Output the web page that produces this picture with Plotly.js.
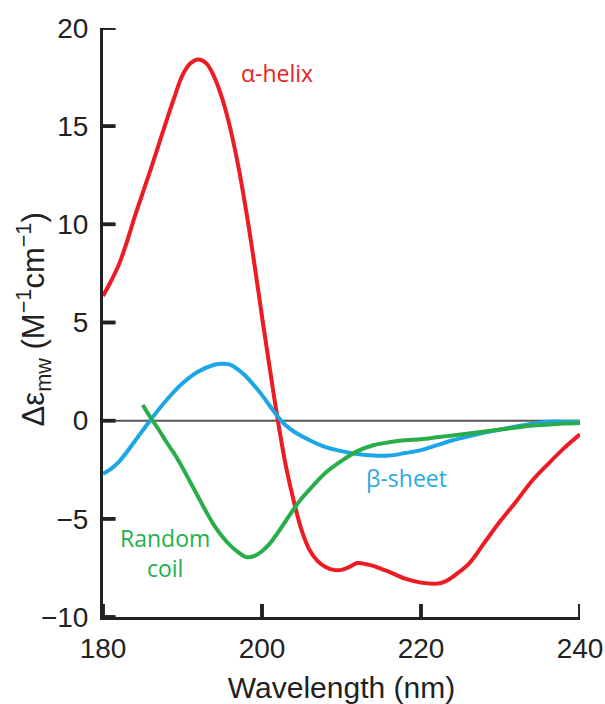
<!DOCTYPE html>
<html>
<head>
<meta charset="utf-8">
<script src="https://cdn.plot.ly/plotly-3.0.1.min.js"></script>
<style>html,body{margin:0;padding:0;background:#fff;}#chart{width:605px;height:704px;}</style>
</head>
<body>
<div id="chart"></div>
<script>
// α-helix
var helixX = [180,181,182,183,184,185,186,187,188,189,190,191,192,193,194,195,196,197,198,199,200,201,202,203,204,205,206,207,208,209,210,211,212,213,214,215,216,218,220,222,223,224,226,228,230,232,234,236,238,240];
var helixY = [6.35,7.1,7.95,9.1,10.4,11.6,12.8,14.05,15.3,16.5,17.6,18.2,18.4,18.2,17.5,16.4,14.9,13.0,10.7,8.1,5.3,2.6,0.0,-2.3,-4.1,-5.6,-6.6,-7.15,-7.45,-7.6,-7.6,-7.45,-7.25,-7.3,-7.4,-7.55,-7.7,-8.05,-8.25,-8.3,-8.2,-7.95,-7.3,-6.2,-5.1,-4.1,-3.05,-2.2,-1.4,-0.7];
// β-sheet
var sheetX = [180,181,182,184,186,188,190,192,194,195,196,197,198,199,200,201,202,203,204,206,208,210,212,214,216,218,220,222,224,226,228,230,232,234,236,238,240];
var sheetY = [-2.7,-2.45,-2.1,-1.05,0.05,1.05,1.9,2.5,2.85,2.9,2.85,2.6,2.25,1.8,1.3,0.75,0.2,-0.25,-0.55,-1.0,-1.35,-1.55,-1.7,-1.78,-1.78,-1.65,-1.5,-1.25,-1.0,-0.8,-0.6,-0.45,-0.3,-0.15,-0.05,-0.05,-0.05];
// Random coil
var coilX = [185,186,187,188,189,190,191,192,193,194,195,196,197,198,199,200,201,202,203,204,205,206,207,208,210,212,214,216,218,220,222,224,226,228,230,232,234,236,238,240];
var coilY = [0.8,0.15,-0.45,-1.1,-1.7,-2.4,-3.15,-3.9,-4.65,-5.35,-5.9,-6.35,-6.7,-6.95,-6.9,-6.65,-6.25,-5.7,-5.1,-4.5,-3.95,-3.5,-3.05,-2.65,-2.05,-1.55,-1.25,-1.1,-1.0,-0.95,-0.85,-0.75,-0.65,-0.55,-0.45,-0.35,-0.25,-0.2,-0.15,-0.12];

var xTicks = [180,200,220,240];
var yTicks = [-10,-5,0,5,10,15,20];
var yTickText = ['\u221210','\u22125','0','5','10','15','20'];

var xRange = [180, 240], yRange = [-10, 20];
var red = '#ED1C24', blue = '#1DA6E6', green = '#27AE4A';
var axisColor = '#222';

// inward tick marks built from the tick arrays (length as a fraction of the other axis span)
var xTickLen = (yRange[1] - yRange[0]) * 0.022;
var yTickLen = (xRange[1] - xRange[0]) * 0.026;
var shapes = [];
xTicks.forEach(function (t) {
  shapes.push({type: 'line', layer: 'below', xref: 'x', yref: 'y',
               x0: t, x1: t, y0: yRange[0], y1: yRange[0] + xTickLen, line: {color: axisColor, width: 3.5}});
});
yTicks.forEach(function (t) {
  shapes.push({type: 'line', layer: 'below', xref: 'x', yref: 'y',
               x0: xRange[0], x1: xRange[0] + yTickLen, y0: t, y1: t, line: {color: axisColor, width: 3.5}});
});
var tickX = [], tickY = [];
xTicks.forEach(function (t) { tickX.push(t, t, null); tickY.push(yRange[0], yRange[0] + xTickLen, null); });
yTicks.forEach(function (t) { tickX.push(xRange[0], xRange[0] + yTickLen, null); tickY.push(t, t, null); });

var traces = [
  {x: xRange, y: [0, 0], mode: 'lines', line: {color: '#555', width: 2}, hoverinfo: 'skip'},
  {x: helixX, y: helixY, mode: 'lines', line: {color: red, width: 4, shape: 'spline', smoothing: 1}, hoverinfo: 'skip'},
  {x: sheetX, y: sheetY, mode: 'lines', line: {color: blue, width: 4, shape: 'spline', smoothing: 1}, hoverinfo: 'skip'},
  {x: coilX, y: coilY, mode: 'lines', line: {color: green, width: 4, shape: 'spline', smoothing: 1}, hoverinfo: 'skip'},
  {x: tickX, y: tickY, mode: 'lines', line: {color: axisColor, width: 3.5}, connectgaps: false, hoverinfo: 'skip'}
];

var annFont = 'Open Sans, Noto Sans, sans-serif';
var layout = {
  width: 605, height: 704,
  margin: {l: 103, r: 25, t: 28, b: 87},
  paper_bgcolor: '#fff', plot_bgcolor: '#fff',
  showlegend: false,
  font: {family: 'Liberation Sans, Arial, sans-serif', color: axisColor},
  xaxis: {
    range: xRange, tickmode: 'array', tickvals: xTicks,
    ticks: '', showline: true, linecolor: axisColor, linewidth: 3,
    showgrid: false, zeroline: false,
    tickfont: {size: 28, color: axisColor},
    ticklabelstandoff: 4,
    title: {text: 'Wavelength (nm)', font: {size: 30, color: axisColor}, standoff: 20}
  },
  yaxis: {
    range: yRange, tickmode: 'array', tickvals: yTicks, ticktext: yTickText,
    ticks: '', showline: true, linecolor: axisColor, linewidth: 3,
    showgrid: false, zeroline: false,
    tickfont: {size: 28, color: axisColor},
    ticklabelstandoff: 6
  },
  shapes: shapes,
  annotations: [
    {x: -0.145, y: 0.505, xref: 'paper', yref: 'paper', xanchor: 'center', yanchor: 'middle', textangle: -90,
     text: '\u0394\u03b5<sub>mw</sub> (M<sup>\u22121</sup>cm<sup>\u22121</sup>)', showarrow: false,
     font: {size: 31, color: axisColor}},
    {x: 201.9, y: 17.7, xref: 'x', yref: 'y', text: '\u03b1-helix', showarrow: false, font: {family: annFont, size: 23, color: red}},
    {x: 218.2, y: -2.9, xref: 'x', yref: 'y', text: '\u03b2-sheet', showarrow: false, font: {family: annFont, size: 23, color: '#29A9E1'}},
    {x: 187.8, y: -6.75, xref: 'x', yref: 'y', text: 'Random<br>coil', showarrow: false, font: {family: annFont, size: 23, color: '#22B14C'}}
  ]
};

Plotly.newPlot('chart', traces, layout, {displayModeBar: false, staticPlot: true});
</script>
</body>
</html>
